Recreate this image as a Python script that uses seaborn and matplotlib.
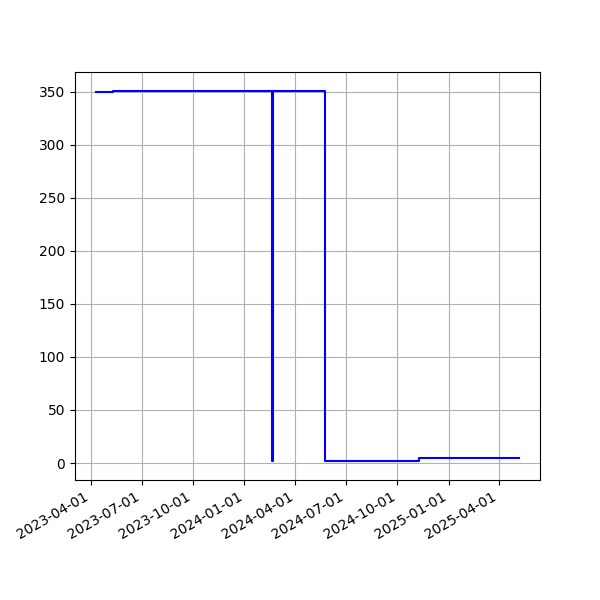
import pandas as pd
import matplotlib
matplotlib.use("Agg")
import matplotlib.pyplot as plt
import matplotlib.dates as mdates
import seaborn as sns

# puntos de cambio (serie escalonada)
fechas = ["2023-04-10", "2023-05-10", "2024-02-20", "2024-02-21",
          "2024-05-24", "2024-11-09", "2025-05-07"]
valores = [350, 351, 2, 351, 1.5, 4.7, 4.7]

df = pd.DataFrame({"fecha": pd.to_datetime(fechas), "valor": valores})

fig, ax = plt.subplots(figsize=(6, 6), dpi=100)
sns.lineplot(x="fecha", y="valor", data=df, ax=ax, color="blue",
             linewidth=1.5, drawstyle="steps-post")
ax.set_xlabel("")
ax.set_ylabel("")
ax.grid(True)
ax.xaxis.set_major_locator(mdates.MonthLocator(bymonth=[1, 4, 7, 10]))
ax.xaxis.set_major_formatter(mdates.DateFormatter("%Y-%m-%d"))
fig.autofmt_xdate()

plt.savefig("out.png")
plt.close()
